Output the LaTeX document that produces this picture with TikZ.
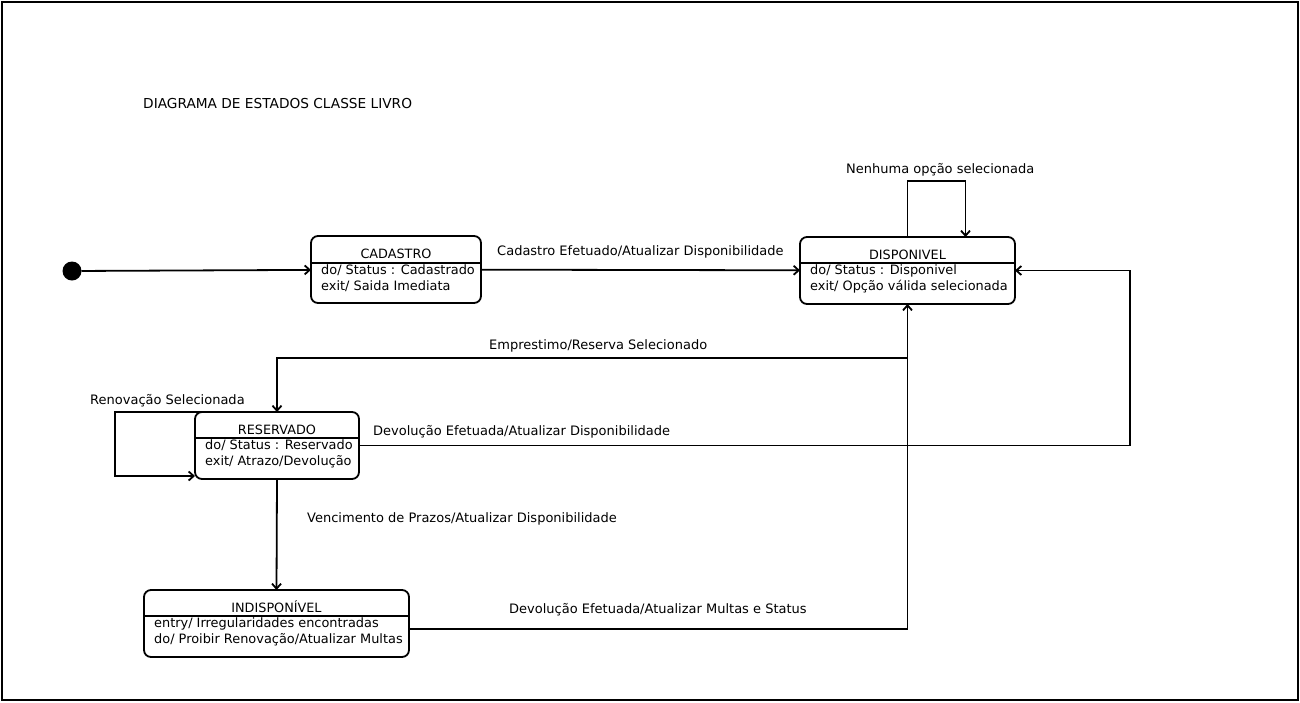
\documentclass[tikz,border=0pt]{standalone}
\usepackage{fontspec}
\setmainfont{DejaVu Sans}
\usetikzlibrary{positioning,arrows.meta,calc}

\begin{document}
\begin{tikzpicture}[x=1pt,y=-1pt]
       \definecolor{ink}{HTML}{000000}

       \newcommand{\statebody}[1]{\begin{tabular}{@{}l@{}}#1\end{tabular}}

       \tikzstyle{state}     = [rectangle, rounded corners=7pt, draw = ink, line width=1.8pt, minimum height=67pt, inner sep=0pt, outer sep=0pt]
       \tikzstyle{statename} = [anchor=base, inner sep=0pt, font=\fontsize{12.8}{14}\selectfont]
       \tikzstyle{statedesc} = [anchor=north west, inner sep=0pt, font=\fontsize{12.9}{16}\selectfont]
       \tikzstyle{divider}   = [line width=1.8pt, draw = ink]
       \tikzstyle{label}     = [anchor=west, inner sep=0pt, font=\fontsize{13}{14}\selectfont]
       \tikzstyle{connector} = [line width=1.8pt, -{Straight Barb[length=5pt,width=9pt]}]

       \useasboundingbox (0,0) rectangle (1300,702);
       \draw [line width=1.8pt] (2,2) rectangle (1298,700);

       \node [anchor=west, inner sep=0pt, font=\fontsize{13.7}{15}\selectfont] (titulo) at (143,104) {DIAGRAMA DE ESTADOS CLASSE LIVRO};

       \node [circle, fill = ink, minimum size=19pt, inner sep=0pt, outer sep=0pt] (inicio) at (72,271) {};

       % CADASTRO
       \node [state, minimum width=170pt] (cadastro) at (396,269.5) {};
       \node [statename] (cadastroname) at ([yshift=-22pt]cadastro.north) {CADASTRO};
       \draw [divider] ([yshift=-27pt]cadastro.north west) -- ([yshift=-27pt]cadastro.north east);
       \node [statedesc] (cadastrodesc) at ([xshift=10pt,yshift=-27.5pt]cadastro.north west) {\statebody{
           do/ Status : Cadastrado\\
           exit/ Saida Imediata
         }};

       % DISPONIVEL
       \node [state, minimum width=215pt] (disponivel) at (907.5,270.5) {};
       \node [statename] (disponivelname) at ([yshift=-22pt]disponivel.north) {DISPONIVEL};
       \draw [divider] ([yshift=-26pt]disponivel.north west) -- ([yshift=-26pt]disponivel.north east);
       \node [statedesc] (disponiveldesc) at ([xshift=10pt,yshift=-26.5pt]disponivel.north west) {\statebody{
           do/ Status : Disponivel\\
           exit/ Opção válida selecionada
         }};

       % RESERVADO
       \node [state, minimum width=164pt] (reservado) at (277,445.5) {};
       \node [statename] (reservadoname) at ([yshift=-22pt]reservado.north) {RESERVADO};
       \draw [divider] ([yshift=-26pt]reservado.north west) -- ([yshift=-26pt]reservado.north east);
       \node [statedesc] (reservadodesc) at ([xshift=10pt,yshift=-26.5pt]reservado.north west) {\statebody{
           do/ Status : Reservado\\
           exit/ Atrazo/Devolução
         }};

       % INDISPONIVEL
       \node [state, minimum width=265pt] (indisponivel) at (276.5,623.5) {};
       \node [statename] (indisponivelname) at ([yshift=-22pt]indisponivel.north) {INDISPONÍVEL};
       \draw [divider] ([yshift=-26pt]indisponivel.north west) -- ([yshift=-26pt]indisponivel.north east);
       \node [statedesc] (indisponiveldesc) at ([xshift=10pt,yshift=-26.5pt]indisponivel.north west) {\statebody{
           entry/ Irregularidades encontradas\\
           do/ Proibir Renovação/Atualizar Multas
         }};

       % transicoes
       \draw [connector] (inicio) -- (cadastro);
       \draw [connector] (cadastro) -- (disponivel);
       \draw [connector] (disponivel.north) -- ++(0,-56) -| ([xshift=58pt]disponivel.north);
       \draw [connector] (disponivel.south) -- ++(0,54) -| (reservado.north);
       \draw [connector] (reservado.east) -- ++(771,0) |- (disponivel.east);
       \draw [connector] ([xshift=6pt]reservado.north west) -- ++(-86,0) |- ([yshift=3pt]reservado.south west);
       \draw [connector] (reservado.south) -- (indisponivel.north);
       \draw [connector] ([yshift=-5.5pt]indisponivel.east) -| (disponivel.south);

       \node [label] (cadastrolbl)    at (497,251.5) {Cadastro Efetuado/Atualizar Disponibilidade};
       \node [label] (nenhumalbl)     at (846,169.5) {Nenhuma opção selecionada};
       \node [label] (emprestimolbl)  at (489,345.5) {Emprestimo/Reserva Selecionado};
       \node [label] (renovacaolbl)   at (90,400.5)  {Renovação Selecionada};
       \node [label] (devolucaolbl)   at (373,431.5) {Devolução Efetuada/Atualizar Disponibilidade};
       \node [label] (vencimentolbl)  at (307,518.5) {Vencimento de Prazos/Atualizar Disponibilidade};
       \node [label] (multaslbl)      at (509,609.5) {Devolução Efetuada/Atualizar Multas e Status};
     \end{tikzpicture}
\end{document}
